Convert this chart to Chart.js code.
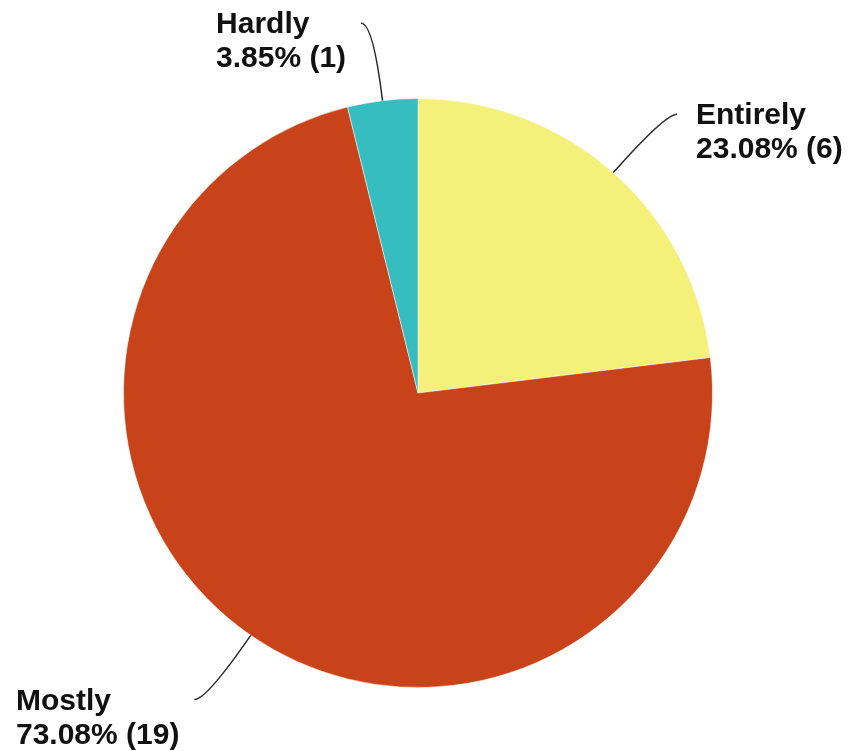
<!DOCTYPE html>
<html>
<head>
<meta charset="utf-8">
<script src="https://cdn.jsdelivr.net/npm/chart.js@4/dist/chart.umd.min.js"></script>
<style>
  html, body { margin: 0; padding: 0; background: #ffffff; }
  #wrap { width: 848px; height: 751px; position: relative; }
</style>
</head>
<body>
<div id="wrap"><canvas id="c" width="848" height="751"></canvas></div>
<script>
const categories = ["Entirely", "Mostly", "Hardly"];
const counts = [6, 19, 1];
const percentLabels = ["23.08%", "73.08%", "3.85%"];
const sliceColors = ["#F5F07A", "#C9431A", "#35BDC0"];

const leaderPlugin = {
  id: 'leaderLabels',
  afterDatasetsDraw(chart) {
    const ctx = chart.ctx;
    const meta = chart.getDatasetMeta(0);
    ctx.save();
    ctx.font = 'bold 30px "Liberation Sans", Arial, sans-serif';
    ctx.textBaseline = 'alphabetic';
    ctx.textAlign = 'left';
    meta.data.forEach((arc, i) => {
      const mid = (arc.startAngle + arc.endAngle) / 2;
      const r = arc.outerRadius;
      const cx = arc.x, cy = arc.y;
      const dx = Math.cos(mid), dy = Math.sin(mid);
      const p0 = { x: cx + r * dx, y: cy + r * dy };
      const elbow = { x: cx + (r + 78) * dx, y: cy + (r + 78) * dy };
      const side = dx >= 0 ? 1 : -1;
      const end = { x: elbow.x + side * 12, y: elbow.y };
      ctx.beginPath();
      ctx.moveTo(p0.x, p0.y);
      ctx.quadraticCurveTo(elbow.x, elbow.y, end.x, end.y);
      ctx.strokeStyle = '#2a2a2a';
      ctx.lineWidth = 1.5;
      ctx.stroke();

      const line1 = categories[i];
      const line2 = percentLabels[i] + ' (' + counts[i] + ')';
      const w = Math.max(ctx.measureText(line1).width, ctx.measureText(line2).width);
      const left = side > 0 ? end.x + 19 : end.x - 15 - w;
      const base1 = end.y + 10;
      ctx.fillStyle = '#111111';
      ctx.fillText(line1, left, base1);
      ctx.fillText(line2, left, base1 + 34);
    });
    ctx.restore();
  }
};

new Chart(document.getElementById('c'), {
  type: 'pie',
  data: {
    labels: categories,
    datasets: [{
      data: counts,
      backgroundColor: sliceColors,
      borderColor: 'rgba(255,255,255,0.5)',
      borderWidth: 1
    }]
  },
  options: {
    responsive: false,
    animation: false,
    layout: { padding: { top: 98, bottom: 63, left: 123, right: 135 } },
    plugins: { legend: { display: false }, tooltip: { enabled: false } }
  },
  plugins: [leaderPlugin]
});
</script>
</body>
</html>
